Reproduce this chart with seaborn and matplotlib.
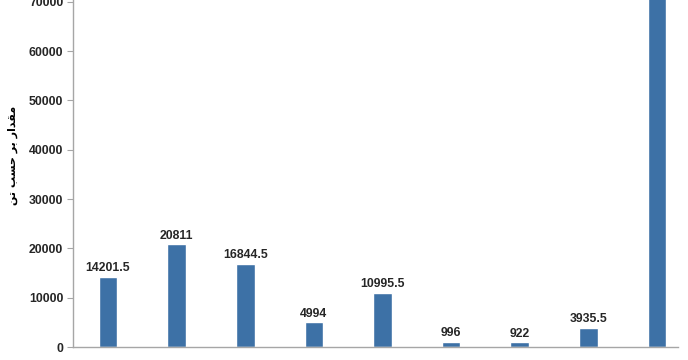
import matplotlib
matplotlib.use("Agg")
import matplotlib.pyplot as plt
import seaborn as sns
import pandas as pd

# --- data (x labels are cropped in the source) ---
categories = ["1", "2", "3", "4", "5", "6", "7", "8", "9"]
values = [14201.5, 20811, 16844.5, 4994, 10995.5, 996, 922, 3935.5, 73700.5]
y_ticks = [0, 10000, 20000, 30000, 40000, 50000, 60000, 70000]

# "مقدار بر حسب تن" pre-shaped (presentation forms, visual order) since
# matplotlib does no Arabic shaping / bidi on its own
ylabel_text = "\uFEE6\uFE97 \uFE90\uFEB4\uFEA3 \uFEAE\uFE91 \uFEAD\uFE8D\uFEAA\uFED8\uFEE3"

bar_color = "#3d71a6"
text_color = "#262626"
axis_color = "#a6a6a6"

sns.set_style("white")
plt.rcParams["font.family"] = ["Liberation Sans", "DejaVu Sans"]

df = pd.DataFrame({"cat": categories, "val": values})

fig = plt.figure(figsize=(6.88, 3.60), dpi=100)
ax = fig.add_axes([73 / 688, 13 / 360, 605 / 688, 347 / 360])

sns.barplot(data=df, x="cat", y="val", color=bar_color, width=0.27,
            saturation=1, ax=ax)

ymax = 70345
ax.set_ylim(0, ymax)
ax.set_xlim(-0.51, 8.306)
ax.set_yticks(y_ticks)
ax.set_yticklabels([str(t) for t in y_ticks], fontsize=8.8,
                   fontweight="bold", color=text_color)
ax.set_xticks(range(len(categories)))
ax.set_xticklabels([""] * len(categories))
ax.set_xlabel("")
ax.set_ylabel(ylabel_text, family=["DejaVu Sans"], fontsize=8,
              fontweight="bold", color="black")
ax.yaxis.set_label_coords(-0.091, 0.553)

# value labels on the bars that fit inside the view
for patch, v in zip(ax.patches, values):
    if v < ymax * 0.95:
        label = f"{v:g}"
        ax.annotate(label, (patch.get_x() + patch.get_width() / 2, v),
                    xytext=(0, 2), textcoords="offset points",
                    ha="center", va="bottom", fontsize=8.8,
                    fontweight="bold", color=text_color)

for side in ["top", "right"]:
    ax.spines[side].set_visible(False)
for side in ["left", "bottom"]:
    ax.spines[side].set_color(axis_color)
    ax.spines[side].set_linewidth(1)
ax.tick_params(axis="y", length=4, color=axis_color, direction="out", pad=3, left=True)
ax.tick_params(axis="x", length=0)

fig.savefig("out.png", dpi=100, facecolor="white")
